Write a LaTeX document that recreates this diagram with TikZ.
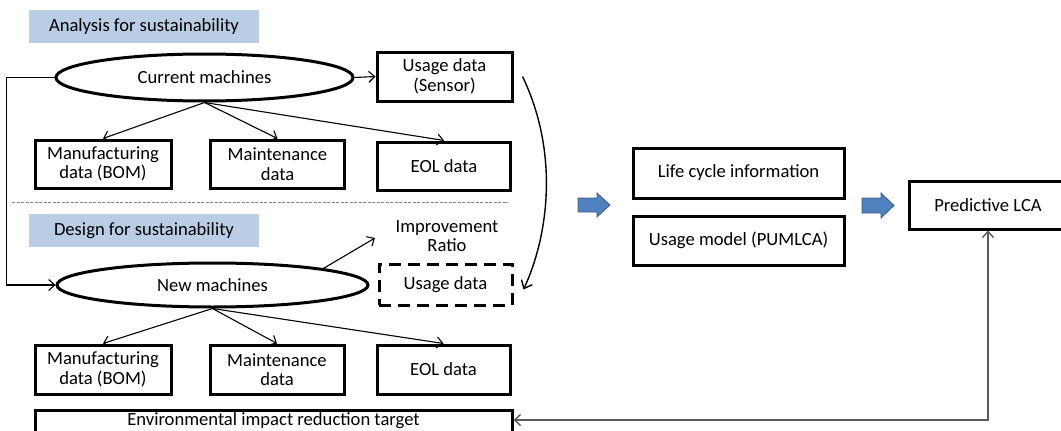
\documentclass[tikz,border=0pt]{standalone}
\usepackage{fontspec}
\setmainfont{Carlito}
\usetikzlibrary{shapes.geometric,arrows.meta}
\definecolor{hdr}{RGB}{185,205,229}
\definecolor{bluefill}{RGB}{79,129,189}
\definecolor{blueedge}{RGB}{56,93,138}
\definecolor{linegray}{RGB}{89,89,89}
\tikzset{
  bx/.style={draw=black, line width=3pt, inner sep=0pt, align=center, fill=white},
  hdrbox/.style={fill=hdr, inner sep=0pt, minimum width=230pt, minimum height=33pt},
  ell/.style={draw=black, line width=3pt, ellipse, inner sep=0pt},
  arr/.style={line width=1.1pt, -{Straight Barb[length=6pt,width=11pt]}},
  garr/.style={draw=linegray, line width=1.4pt, {Straight Barb[length=6pt,width=11pt]}-{Straight Barb[length=6pt,width=11pt]}},
  bigarrow/.style={fill=bluefill, draw=blueedge, line width=0.8pt},
}
\begin{document}
\begin{tikzpicture}[x=1pt,y=-1pt, font=\fontsize{18.6}{19.5}\selectfont]
\useasboundingbox (0,0) rectangle (1061,431);
\clip (0,0) rectangle (1061,431);

% headers
\node[hdrbox] (h1) at (144,26.5) {Analysis for sustainability};
\node[hdrbox] (h2) at (144,230.5) {Design for sustainability};

% current machines section
\node[ell, minimum width=297pt, minimum height=47pt] (cur) at (204.5,77.5) {Current machines};
\node[bx, minimum width=135pt, minimum height=49pt] (sensor) at (444.5,76.5) {Usage data\\(Sensor)};
\node[bx, minimum width=136pt, minimum height=48pt] (mfg1) at (103,164) {Manufacturing\\data (BOM)};
\node[bx, minimum width=134pt, minimum height=48pt] (mnt1) at (277.5,164) {Maintenance\\data};
\node[bx, minimum width=133pt, minimum height=48pt] (eol1) at (444,166) {EOL data};

% separator
\draw[draw=gray, line width=0.9pt, dash pattern=on 3pt off 1.5pt] (12,202) -- (508,202);

% new machines section
\node[ell, minimum width=311pt, minimum height=44pt] (new) at (212.5,285) {New machines};
\node[align=center, inner sep=0pt] (imp) at (447,236) {Improvement\\Ratio};
\coordinate (impin) at (375,238);
\node[bx, minimum width=133pt, minimum height=41pt, dash pattern=on 12pt off 7pt] (use2) at (445.5,284.5) {Usage data};
\node[bx, minimum width=136pt, minimum height=49pt] (mfg2) at (103,369.5) {Manufacturing\\data (BOM)};
\node[bx, minimum width=134pt, minimum height=49pt] (mnt2) at (277,369.5) {Maintenance\\data};
\node[bx, minimum width=133pt, minimum height=49pt] (eol2) at (443.5,369.5) {EOL data};
\node[bx, minimum width=477pt, minimum height=22pt] (env) at (273.5,421) {Environmental impact reduction target};

% right side
\node[bx, minimum width=211pt, minimum height=50pt] (lci) at (738.5,173) {Life cycle information};
\node[bx, minimum width=211pt, minimum height=49pt] (um) at (738.5,240.5) {Usage model (PUMLCA)};
\node[bx, minimum width=158pt, minimum height=48pt] (plca) at (988,205) {Predictive LCA};

% big blue arrows
\draw[bigarrow] (578,198) -- (597,198) -- (597,193) -- (610,205) -- (597,217) -- (597,212) -- (578,212) -- cycle;
\draw[bigarrow] (862,198) -- (881,198) -- (881,193) -- (894,205.5) -- (881,218) -- (881,213) -- (862,213) -- cycle;

% connectors
\draw[arr] (cur.east) -- (sensor.west);
\draw[arr] (cur.south) -- (mfg1.north);
\draw[arr] (cur.south) -- (mnt1.north);
\draw[arr] (cur.south) -- (eol1.north);
\draw[arr] (cur.west) -- ++(-48,0) |- (new.west);
\draw[arr] (new.south) -- (mfg2.north);
\draw[arr] (new.south) -- (mnt2.north);
\draw[arr] (new.south) -- (eol2.north);
\draw[arr] (new.north east) -- (impin);
\draw[line width=1.4pt, -{Straight Barb[length=7pt,width=12pt]}] ([xshift=9pt]sensor.east) .. controls (558,150) and (550,232) .. ([xshift=10pt,yshift=-5pt]use2.east);
\draw[garr] ([yshift=1pt]env.east) -| (plca.south);
\end{tikzpicture}
\end{document}
